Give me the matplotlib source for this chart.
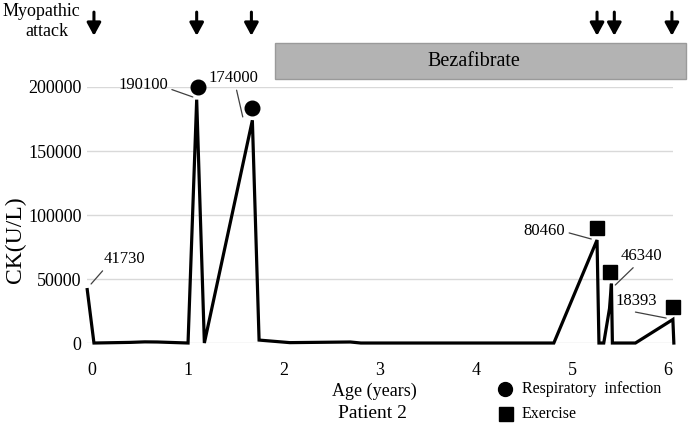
import matplotlib
matplotlib.use("Agg")
import matplotlib.pyplot as plt
from matplotlib.patches import Rectangle

plt.rcParams["font.family"] = ["Liberation Serif", "DejaVu Serif"]

# CK trace (age in years, CK in U/L)
ages = [-0.05, 0.02, 0.40, 0.55, 0.68, 1.00, 1.09, 1.17, 1.67, 1.74,
        2.06, 2.69, 2.80, 4.81, 5.26, 5.28, 5.33, 5.39, 5.41, 5.42,
        5.66, 6.05, 6.06]
ck = [41730, 0, 500, 900, 800, 0, 190100, 0, 174000, 2300,
      300, 800, 0, 0, 80460, 0, 0, 27000, 46340, 0,
      0, 18393, 0]

# event markers
infection_age = [1.10, 1.67]
infection_mark = [200000, 183600]
exercise_age = [5.26, 5.39, 6.05]
exercise_mark = [89800, 55500, 28100]

# myopathic attacks
attack_ages = [0.02, 1.09, 1.66, 5.26, 5.44, 6.04]

# labelled peaks
peak_text = ["41730", "190100", "174000", "80460", "46340", "18393"]
peak_xy = [(-0.01, 46100), (1.05, 192200), (1.57, 176600),
           (5.20, 81250), (5.45, 45300), (5.98, 19500)]
peak_text_xy = [(0.34, 65600), (0.53, 201600), (1.47, 207000),
                (4.71, 87500), (5.72, 68000), (5.67, 32800)]
peak_relpos = [(0.05, 0.0), (1.0, 0.3), (0.55, 0.0),
               (1.0, 0.45), (0.4, 0.0), (0.1, 0.0)]

beza_start, beza_end = 1.91, 6.19

fig = plt.figure(figsize=(6.89, 4.25), dpi=100)
ax = fig.add_axes([0.1266, 0.1929, 0.850, 0.6024])

ax.plot(ages, ck, color="black", lw=2.3, clip_on=False,
        solid_joinstyle="miter", zorder=3)
ax.plot(infection_age, infection_mark, "o", color="black",
        markersize=10.5, clip_on=False, zorder=4)
ax.plot(exercise_age, exercise_mark, "s", color="black",
        markersize=10.5, clip_on=False, zorder=4)

for txt, xy, xyt, rp in zip(peak_text, peak_xy, peak_text_xy, peak_relpos):
    ax.annotate(txt, xy=xy, xytext=xyt, ha="center", va="center",
                fontsize=12, annotation_clip=False,
                arrowprops=dict(arrowstyle="-", color="#404040", lw=0.9,
                                shrinkA=1, shrinkB=0, relpos=rp))

for a in attack_ages:
    ax.annotate("", xy=(a, 240000), xytext=(a, 258500),
                annotation_clip=False,
                arrowprops=dict(arrowstyle="-|>,head_length=0.55,head_width=0.3",
                                color="black", lw=2.2, mutation_scale=14,
                                shrinkA=0, shrinkB=0))

ax.add_patch(Rectangle((beza_start, 206250), beza_end - beza_start, 28150,
                       facecolor="#b3b3b3", edgecolor="#9a9a9a", lw=1,
                       clip_on=False, zorder=2))
ax.text((beza_start + beza_end) / 2 - 0.07, 220300, "Bezafibrate",
        ha="center", va="center", fontsize=14.5)

ax.set_xlim(-0.05, 6.05)
ax.set_ylim(0, 200000)
ax.set_xticks(range(0, 7))
ax.set_yticks(range(0, 200001, 50000))
ax.tick_params(axis="both", length=0, labelsize=13)
ax.tick_params(axis="x", pad=14)
ax.tick_params(axis="y", pad=4)
ax.grid(axis="y", color="#d9d9d9", lw=1)
ax.set_axisbelow(True)
for s in ax.spines.values():
    s.set_visible(False)

fig.text(15 / 689, 1 - 240 / 425, "CK(U/L)", rotation=90,
         ha="center", va="center", fontsize=17)
fig.text(374 / 689, 1 - 391 / 425, "Age (years)", ha="center",
         va="center", fontsize=13)
fig.text(373 / 689, 1 - 414 / 425, "Patient 2", ha="center",
         va="center", fontsize=14)
fig.text(41 / 689, 1 - 11 / 425, "Myopathic", ha="center",
         va="center", fontsize=13)
fig.text(47 / 689, 1 - 31 / 425, "attack", ha="center",
         va="center", fontsize=13)

# legend drawn by hand
fig.lines.append(plt.Line2D([505 / 689], [1 - 389 / 425], marker="o",
                            color="black", markersize=10,
                            transform=fig.transFigure))
fig.lines.append(plt.Line2D([506 / 689], [1 - 414 / 425], marker="s",
                            color="black", markersize=10,
                            transform=fig.transFigure))
fig.text(522 / 689, 1 - 389 / 425, "Respiratory  infection",
         ha="left", va="center", fontsize=11.5)
fig.text(522 / 689, 1 - 414 / 425, "Exercise",
         ha="left", va="center", fontsize=11.5)

fig.savefig("out.png", dpi=100)
